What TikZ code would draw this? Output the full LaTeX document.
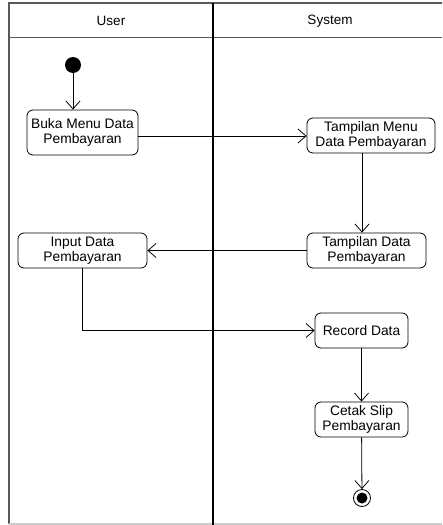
\documentclass[tikz,border=0pt]{standalone}
\usepackage{fontspec}
\setmainfont{Liberation Sans}
\usetikzlibrary{arrows.meta}

\tikzset{
    action/.style={draw, rounded corners=6pt, line width=0.8pt, align=center,
        font=\fontsize{13.8}{15}\selectfont, inner sep=0pt},
    flow/.style={draw, line width=0.8pt, -{Straight Barb[length=8pt,width=14pt,line width=0.8pt]}},
    lane/.style={font=\fontsize{13.5}{15}\selectfont},
}

\begin{document}
\begin{tikzpicture}[x=1pt, y=-1pt]
        \useasboundingbox (0,0) rectangle (442,525);
        % swimlanes
        \draw[gray!70!black, line width=1.6pt] (442,3) -- (9,3) -- (9,524);
        \draw[gray!70!black, line width=1.6pt] (9,37.5) -- (442,37.5);
        \draw[gray!40, line width=1.2pt] (9,524) -- (442,524);
        \draw[black, line width=1.6pt] (213,3) -- (213,525);
        \node[lane] (user) at (111,21) {User};
        \node[lane] (system) at (330,21) {System};

        % states
        \node[circle, fill=black, minimum size=16pt, inner sep=0pt] (start) at (73,65) {};
        \node[action, minimum width=111pt, minimum height=45pt] (buka) at (82.5,132.5)
            {Buka Menu Data\\Pembayaran};
        \node[action, minimum width=128pt, minimum height=35pt] (tmenu) at (371,135.5)
            {Tampilan Menu\\Data Pembayaran};
        \node[action, minimum width=119pt, minimum height=35pt] (tdata) at (366.5,250.5)
            {Tampilan Data\\Pembayaran};
        \node[action, minimum width=129pt, minimum height=35pt] (input) at (82.5,250.5)
            {Input Data\\Pembayaran};
        \node[action, minimum width=93pt, minimum height=35pt] (record) at (361.5,330.5)
            {Record Data};
        \node[action, minimum width=93pt, minimum height=35pt] (cetak) at (361.5,419.5)
            {Cetak Slip\\Pembayaran};
        \node[circle, draw, line width=0.8pt, minimum size=17pt, inner sep=0pt] (stop) at (362,498) {};
        \node[circle, fill=black, minimum size=11pt, inner sep=0pt] (stopdot) at (stop) {};

        % transitions
        \draw[flow] (start) -- (start |- buka.north);
        \draw[flow] (buka.east |- 0,136) -- (tmenu.west |- 0,136);
        \draw[flow] (tmenu.south -| 362,0) -- (tdata.north -| 362,0);
        \draw[flow] (tdata.west) -- (input.east);
        \draw[flow] (input.south) |- (record.west);
        \draw[flow] (record) -- (cetak);
        \draw[flow] (cetak) -- (stop);
\end{tikzpicture}
\end{document}
